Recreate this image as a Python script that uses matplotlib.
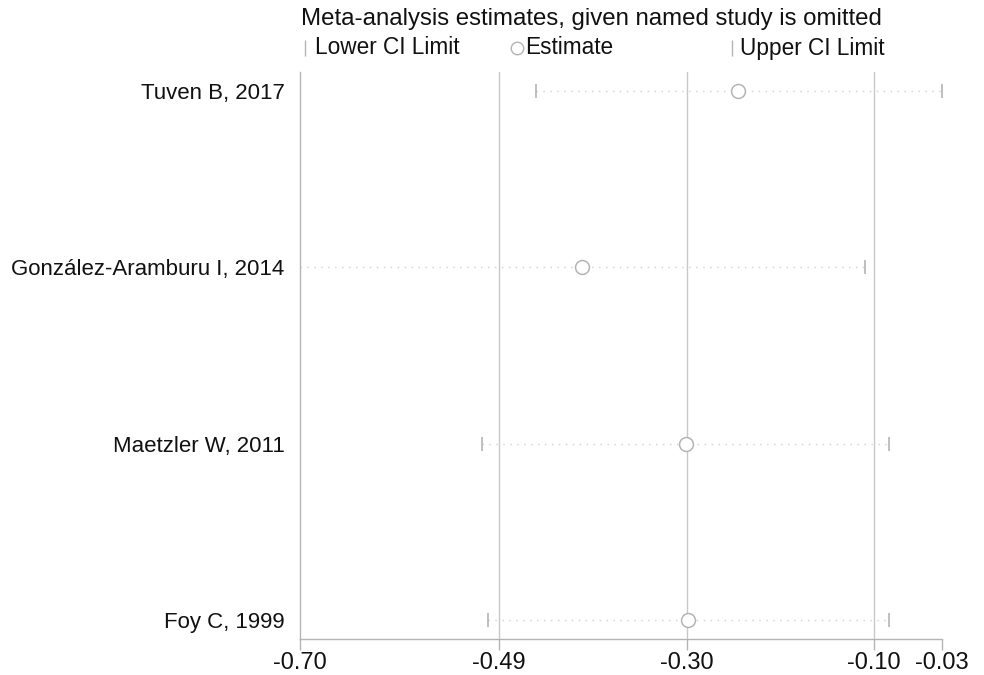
import matplotlib
matplotlib.use("Agg")
import matplotlib.pyplot as plt
from matplotlib.lines import Line2D

plt.rcParams['font.family'] = ['Liberation Sans', 'DejaVu Sans']

# Leave-one-out sensitivity analysis
studies = ["Tuven B, 2017", "González-Aramburu I, 2014", "Maetzler W, 2011", "Foy C, 1999"]
estimate = [-0.243, -0.406, -0.297, -0.295]
lower_ci = [-0.454, -0.700, -0.510, -0.504]
upper_ci = [-0.030, -0.110, -0.085, -0.085]

# Pooled estimate with all studies: lower CI, estimate, upper CI
pooled = [-0.492, -0.296, -0.101]

title = "Meta-analysis estimates, given named study is omitted"
legend_labels = ["Lower CI Limit", "Estimate", "Upper CI Limit"]

line_gray = "#c8c8c8"
axis_gray = "#b4b4b4"
mark_gray = "#b4b4b4"
text_col = "#111111"

fig = plt.figure(figsize=(9.84, 6.75), dpi=100)
ax = fig.add_axes([300 / 984, 1 - 639 / 675, (941.7 - 300) / 984, (639 - 72) / 675])

n = len(studies)
ypos = list(range(n, 0, -1))

xmin = min(lower_ci)
xmax = max(upper_ci)

for v in pooled:
    ax.axvline(v, color=line_gray, lw=1.0, zorder=1)

for y, lo, est, hi in zip(ypos, lower_ci, estimate, upper_ci):
    ax.plot([lo, hi], [y, y], color="#cfcfcf", lw=1.0, linestyle=(0, (1, 4)), zorder=2)
    ax.plot([lo, hi], [y, y], linestyle="none", marker="|", markersize=10.5,
            markeredgewidth=1.2, color=mark_gray, zorder=3)
    ax.plot([est], [y], linestyle="none", marker="o", markersize=10,
            markerfacecolor="white", markeredgecolor=mark_gray, markeredgewidth=1.1, zorder=4)

ax.set_xlim(xmin, xmax)
ax.set_ylim(1 - 0.11, n + 0.11)

ticks = [xmin] + pooled + [xmax]
ax.set_xticks(ticks)
ax.set_xticklabels([f"{t:.2f}" for t in ticks], fontsize=17, color=text_col)
ax.set_yticks(ypos)
ax.set_yticklabels(studies, fontsize=16, color=text_col)
ax.tick_params(axis="x", length=8, width=1.0, color=axis_gray, pad=1.5)
ax.tick_params(axis="y", length=0, pad=11)

for side in ["top", "right"]:
    ax.spines[side].set_visible(False)
for side in ["left", "bottom"]:
    ax.spines[side].set_color(axis_gray)
    ax.spines[side].set_linewidth(1.0)

# Header and key above the plot
fig.text(301 / 984, 1 - 19 / 675, title, fontsize=17.3, color=text_col, va="center", ha="left")

ky = 1 - 48 / 675
key_items = [
    (305, 315, "|", legend_labels[0]),
    (517, 525, "o", legend_labels[1]),
    (732, 740, "|", legend_labels[2]),
]
for mx, tx, mk, lab in key_items:
    if mk == "o":
        fig.add_artist(Line2D([mx / 984], [ky], transform=fig.transFigure, marker="o",
                              markersize=9, markerfacecolor="white",
                              markeredgecolor=mark_gray, markeredgewidth=1.0, linestyle="none"))
    else:
        fig.add_artist(Line2D([mx / 984], [ky], transform=fig.transFigure, marker="|",
                              markersize=12, markeredgewidth=1.0,
                              color=mark_gray, linestyle="none"))
    fig.text(tx / 984, ky, lab, fontsize=16.3, color=text_col, va="center", ha="left")

fig.savefig("out.png", dpi=100, facecolor="white")
